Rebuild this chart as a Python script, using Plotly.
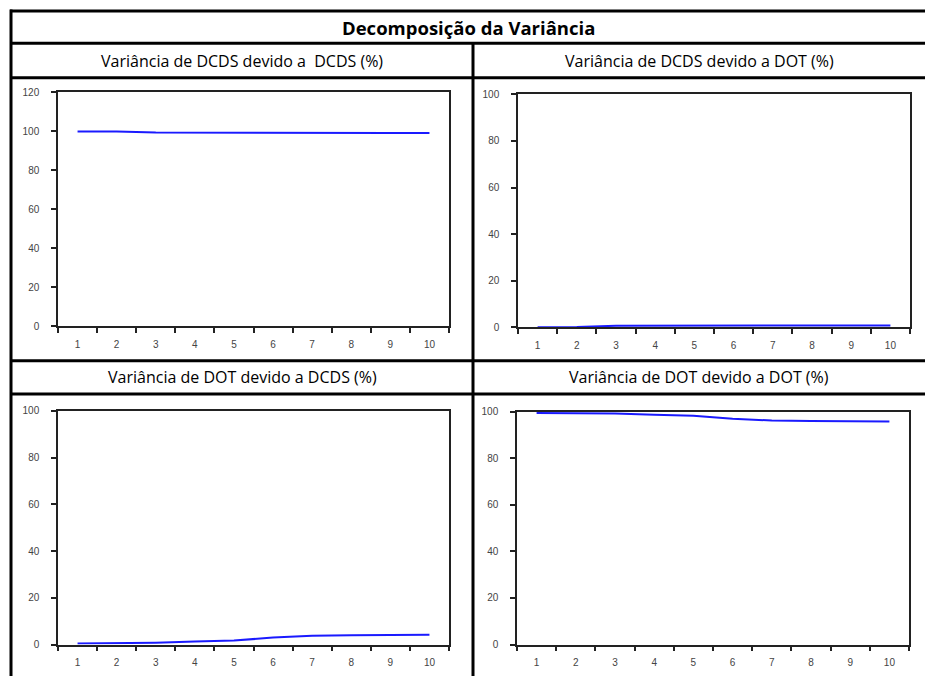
import plotly.graph_objects as go

W, H = 925, 682

periods = list(range(1, 11))
dcds_dcds = [100.0, 99.9, 99.4, 99.3, 99.3, 99.2, 99.2, 99.2, 99.2, 99.2]
dcds_dot = [0.0, 0.1, 0.6, 0.7, 0.7, 0.8, 0.8, 0.8, 0.8, 0.8]
dot_dcds = [0.5, 0.6, 0.8, 1.3, 1.7, 3.0, 3.8, 4.0, 4.1, 4.2]
dot_dot = [99.5, 99.4, 99.2, 98.7, 98.3, 97.0, 96.2, 96.0, 95.9, 95.8]

main_title = "Decomposição da Variância"
panel_titles = [
    "Variância de DCDS devido a\u00a0 DCDS (%)",
    "Variância de DCDS devido a DOT (%)",
    "Variância de DOT devido a DCDS (%)",
    "Variância de DOT devido a DOT (%)",
]
series = [dcds_dcds, dcds_dot, dot_dcds, dot_dot]
y_ranges = [[0, 120], [0, 100], [0, 100], [0, 100]]
x_ticks = [str(p) for p in periods]

def px(x):
    return x / W

def py(y):
    return 1 - y / H

# panel boxes in pixels: (left, right, top, bottom)
boxes = [
    (58, 449, 88, 326),
    (518, 910, 90, 327),
    (58, 449, 412, 650),
    (517, 909, 413, 650),
]

fig = go.Figure()
layout = dict(
    width=W, height=H,
    margin=dict(l=0, r=0, t=0, b=0),
    paper_bgcolor="white", plot_bgcolor="white",
    showlegend=False,
)

tick_font = dict(family="Liberation Sans, Arial, sans-serif", size=10, color="#444444")
half_ticks = [p - 0.5 for p in periods] + [periods[-1] + 0.5]

for i, (vals, yr, box) in enumerate(zip(series, y_ranges, boxes)):
    n = "" if i == 0 else str(i + 1)
    fig.add_trace(go.Scatter(
        x=periods, y=vals, mode="lines",
        line=dict(color="#1a1aff", width=2),
        xaxis="x" + n, yaxis="y" + n, hoverinfo="skip",
    ))
    l, r, t, b = box
    layout["xaxis" + n] = dict(
        domain=[px(l), px(r)], anchor="y" + n,
        range=[0.5, 10.5], tickvals=periods, ticktext=x_ticks,
        ticks="", showgrid=False, zeroline=False,
        showline=True, mirror=True, linecolor="#222222", linewidth=1.5,
        tickfont=tick_font, ticklabelstandoff=8,
        minor=dict(tickvals=half_ticks, ticks="outside", ticklen=5,
                   tickwidth=1.5, tickcolor="#222222", showgrid=False),
    )
    layout["yaxis" + n] = dict(
        domain=[py(b), py(t)], anchor="x" + n,
        range=yr, dtick=20, tick0=0,
        ticks="outside", ticklen=5, tickwidth=1.5, tickcolor="#222222",
        showgrid=False, zeroline=False,
        showline=True, mirror=True, linecolor="#222222", linewidth=1.5,
        tickfont=tick_font, ticklabelstandoff=10,
    )

shapes = []
line_style = dict(color="black", width=3)
for yy in [5, 38, 73, 361, 395]:
    shapes.append(dict(type="line", xref="paper", yref="paper",
                       x0=px(10), x1=1, y0=py(yy), y1=py(yy), line=line_style))
shapes.append(dict(type="line", xref="paper", yref="paper",
                   x0=px(11), x1=px(11), y0=py(3.5), y1=0, line=line_style))
shapes.append(dict(type="line", xref="paper", yref="paper",
                   x0=px(473), x1=px(473), y0=py(38), y1=0, line=line_style))
layout["shapes"] = shapes

head_font = dict(family="Open Sans, Lato, sans-serif", size=16, color="black")
annotations = [dict(
    text="<b>" + main_title + "</b>", xref="paper", yref="paper",
    x=px(468), y=py(21.5), showarrow=False, xanchor="center", yanchor="middle",
    font=dict(family="Open Sans, Lato, sans-serif", size=18.5, color="black"),
)]
centers = [(242, 55.5), (699, 55.5), (242, 378), (699, 378)]
for txt, (cx, cy) in zip(panel_titles, centers):
    annotations.append(dict(
        text=txt, xref="paper", yref="paper", x=px(cx), y=py(cy),
        showarrow=False, xanchor="center", yanchor="middle", font=head_font,
    ))
layout["annotations"] = annotations

fig.update_layout(**layout)
fig.write_html("out.html")
